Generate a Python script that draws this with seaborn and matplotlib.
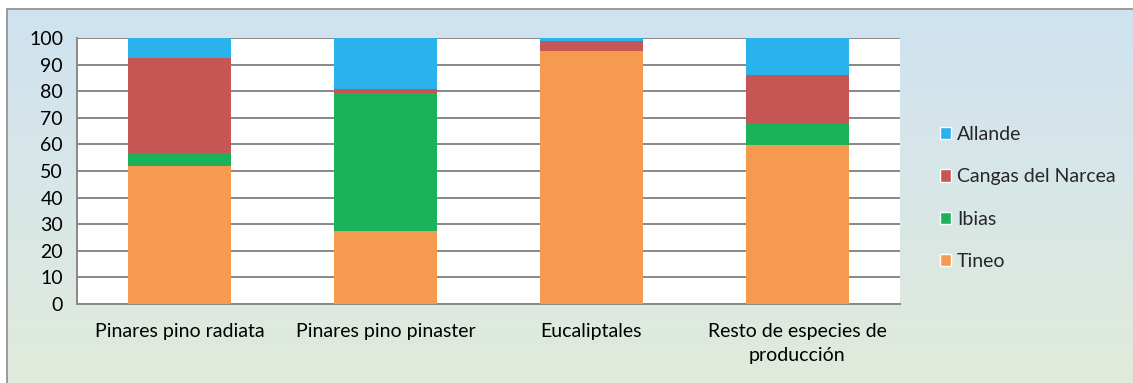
import numpy as np
import pandas as pd
import seaborn as sns
import matplotlib.pyplot as plt
from matplotlib.patches import Patch, Rectangle

categories = ['Pinares pino radiata', 'Pinares pino pinaster', 'Eucaliptales',
              'Resto de especies de\nproducción']
tineo = [52.0, 27.4, 95.2, 59.7]
ibias = [4.6, 52.1, 0.0, 8.5]
cangas = [35.9, 1.3, 3.8, 17.9]
allande = [7.5, 19.2, 1.0, 13.9]

series = ['Tineo', 'Ibias', 'Cangas del Narcea', 'Allande']
colors = {'Tineo': '#F69A50', 'Ibias': '#1AB25A',
          'Cangas del Narcea': '#C65654', 'Allande': '#2AB2EC'}

df = pd.DataFrame({'cat': categories, 'Tineo': tineo, 'Ibias': ibias,
                   'Cangas del Narcea': cangas, 'Allande': allande})
cum = df[series].cumsum(axis=1)
cum['cat'] = df['cat']

sns.set_theme(style='white')
plt.rcParams['font.family'] = ['Lato', 'DejaVu Sans']

fig = plt.figure(figsize=(11.33, 3.83), dpi=100)

# gradient background with frame
bg = fig.add_axes([0, 0, 1, 1], zorder=0)
grad = np.linspace(0, 1, 256).reshape(-1, 1)
top = np.array([207, 226, 240]) / 255
bot = np.array([225, 235, 220]) / 255
img = top + (bot - top) * grad[:, :, None]
bg.imshow(img, aspect='auto', extent=[7 / 1133, 1.01, -0.01, 1 - 9 / 383],
          transform=bg.transAxes)
bg.add_patch(Rectangle((7 / 1133, -0.01), 1.0, 1 - 9 / 383 + 0.01,
                       transform=bg.transAxes, fill=False,
                       edgecolor='#8c8c8c', lw=1.2))
bg.set_xlim(0, 1)
bg.set_ylim(0, 1)
bg.axis('off')

ax = fig.add_axes([77 / 1133, 1 - 304 / 383, (900 - 77) / 1133,
                   (304 - 38) / 383], zorder=1)
ax.set_facecolor('white')

# draw from the top total downwards so each layer covers the one above
for s in reversed(series):
    sns.barplot(data=cum, x='cat', y=s, color=colors[s], width=0.5,
                saturation=1, linewidth=0, ax=ax, zorder=3)

ax.set_ylim(0, 100)
ax.set_xlim(-0.5, 3.5)
ax.set_yticks(range(0, 101, 10))
ax.yaxis.grid(True, color='#888888', lw=1.4, zorder=0)
ax.set_axisbelow(True)
ax.set_xlabel('')
ax.set_ylabel('')
for sp in ['top', 'right']:
    ax.spines[sp].set_visible(False)
for sp in ['left', 'bottom']:
    ax.spines[sp].set_color('#888888')
    ax.spines[sp].set_linewidth(1.4)

ax.tick_params(axis='y', length=5, width=1.4, color='#888888',
               labelsize=14, pad=5, labelcolor='black')
ax.tick_params(axis='x', which='major', length=0, labelsize=14, pad=14,
               labelcolor='black')
ax.set_xticks(np.arange(-0.5, 3.6, 1), minor=True)
ax.tick_params(axis='x', which='minor', length=6, width=1.4, color='#888888')
for t in ax.get_xticklabels():
    t.set_linespacing(1.45)
    t.set_verticalalignment('top')

handles = [Patch(facecolor=colors[s], label=s) for s in reversed(series)]
fig.legend(handles=handles, loc='center left',
           bbox_to_anchor=(922 / 1133, 1 - 198 / 383), frameon=False,
           fontsize=14, handlelength=0.6, handleheight=0.6,
           handletextpad=0.3, labelspacing=1.3)

fig.savefig('out.png', dpi=100)
